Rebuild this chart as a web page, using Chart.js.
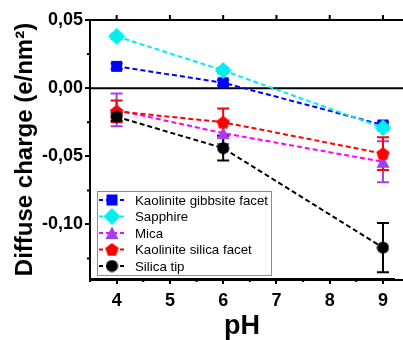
<!DOCTYPE html>
<html lang="en">
<head>
<meta charset="UTF-8">
<title>Diffuse charge vs pH</title>
<script src="https://cdn.jsdelivr.net/npm/chart.js"></script>
<style>
  html, body { margin: 0; padding: 0; background: #fff; }
</style>
</head>
<body>
<canvas id="chart" width="403" height="340"></canvas>
<script>
// pH values where the measurements were taken
const phValues = [4, 6, 9];
const seriesNames = ['Kaolinite gibbsite facet', 'Sapphire', 'Mica', 'Kaolinite silica facet', 'Silica tip'];

// diffuse charge (e/nm2) and error bars
const gibbsiteCharge = [0.016, 0.004, -0.027];
const gibbsiteErr = [0.002, 0.002, 0.002];
const sapphireCharge = [0.038, 0.013, -0.029];
const sapphireErr = [0.002, 0.002, 0.002];
const micaCharge = [-0.016, -0.033, -0.054];
const micaErr = [0.012, 0.008, 0.015];
const silicaFacetCharge = [-0.017, -0.025, -0.048];
const silicaFacetErr = [0.008, 0.010, 0.012];
const silicaTipCharge = [-0.021, -0.044, -0.117];
const silicaTipErr = [0.003, 0.009, 0.018];

const xTicks = [4, 5, 6, 7, 8, 9];
const xMinorTicks = [3.5, 4.5, 5.5, 6.5, 7.5, 8.5];
const yTicks = [-0.10, -0.05, 0.00, 0.05];
const yMinorTicks = [-0.125, -0.075, -0.025, 0.025];

// marker images (Chart.js has no pentagon, so all markers are drawn the same way)
function makeMarker(shape, fill, size) {
    const c = document.createElement('canvas');
    c.width = size; c.height = size;
    const g = c.getContext('2d');
    const r = size / 2;
    g.fillStyle = fill;
    g.beginPath();
    if (shape === 'square') {
        g.rect(1, 1, size - 2, size - 2);
    } else if (shape === 'diamond') {
        g.moveTo(r, 0); g.lineTo(size, r); g.lineTo(r, size); g.lineTo(0, r);
    } else if (shape === 'triangle') {
        g.moveTo(r, 0.5); g.lineTo(size - 0.5, size - 1); g.lineTo(0.5, size - 1);
    } else if (shape === 'pentagon') {
        for (let i = 0; i < 5; i++) {
            const a = -Math.PI / 2 + i * 2 * Math.PI / 5;
            const px = r + (r - 0.5) * Math.cos(a), py = r + 0.6 + (r - 0.5) * Math.sin(a);
            if (i === 0) g.moveTo(px, py); else g.lineTo(px, py);
        }
    } else {
        g.arc(r, r, r - 0.5, 0, Math.PI * 2);
    }
    g.closePath();
    g.fill();
    return c;
}

const markers = [
    makeMarker('square', '#0000ff', 13),
    makeMarker('diamond', '#00f0f0', 17),
    makeMarker('triangle', '#a040f0', 14),
    makeMarker('pentagon', '#ff0000', 15),
    makeMarker('circle', '#000000', 13)
];
const lineColors = ['#0000ff', '#00f0f0', '#ff00ff', '#ff0000', '#000000'];
const barColors = ['#0000ff', '#00e0e8', '#a040f0', '#ff0000', '#000000'];

const allCharge = [gibbsiteCharge, sapphireCharge, micaCharge, silicaFacetCharge, silicaTipCharge];
const allErr = [gibbsiteErr, sapphireErr, micaErr, silicaFacetErr, silicaTipErr];

const datasets = allCharge.map((vals, i) => ({
    label: seriesNames[i],
    data: phValues.map((x, j) => ({ x: x, y: vals[j] })),
    borderColor: lineColors[i],
    borderWidth: 2,
    borderDash: [5, 3],
    pointStyle: markers[i],
    fill: false,
    order: 5 - i,
    errors: allErr[i],
    errColor: barColors[i]
}));

const fmt = v => (Math.abs(v) < 1e-9 ? 0 : v).toFixed(2).replace('.', ',');

// error bars, frame, minor ticks, zero line and legend
const extras = {
    id: 'extras',
    beforeDatasetsDraw(chart) {
        const ctx = chart.ctx, xs = chart.scales.x, ys = chart.scales.y;
        const a = chart.chartArea;
        ctx.save();
        ctx.strokeStyle = '#000';
        ctx.lineWidth = 2;
        ctx.beginPath();
        ctx.moveTo(a.left, ys.getPixelForValue(0));
        ctx.lineTo(chart.width, ys.getPixelForValue(0));
        ctx.stroke();
        chart.data.datasets.forEach(ds => {
            ctx.strokeStyle = ds.errColor;
            ctx.lineWidth = 2;
            ds.data.forEach((p, j) => {
                const px = xs.getPixelForValue(p.x);
                const top = ys.getPixelForValue(p.y + ds.errors[j]);
                const bot = ys.getPixelForValue(p.y - ds.errors[j]);
                ctx.beginPath();
                ctx.moveTo(px, top); ctx.lineTo(px, bot);
                ctx.moveTo(px - 6, top); ctx.lineTo(px + 6, top);
                ctx.moveTo(px - 6, bot); ctx.lineTo(px + 6, bot);
                ctx.stroke();
            });
        });
        ctx.restore();
    },
    afterDraw(chart) {
        const ctx = chart.ctx, xs = chart.scales.x, ys = chart.scales.y;
        const a = chart.chartArea;
        ctx.save();
        ctx.strokeStyle = '#000';
        ctx.lineWidth = 2;
        ctx.beginPath();
        // top frame and the part of the axes running off the right edge
        ctx.moveTo(a.left - 1, a.top); ctx.lineTo(chart.width, a.top);
        ctx.moveTo(a.left - 1, a.bottom + 1); ctx.lineTo(chart.width, a.bottom + 1);
        xTicks.forEach(v => {
            const px = xs.getPixelForValue(v);
            ctx.moveTo(px, a.top); ctx.lineTo(px, a.top - 5);
        });
        xMinorTicks.forEach(v => {
            const px = xs.getPixelForValue(v);
            ctx.moveTo(px, a.bottom); ctx.lineTo(px, a.bottom + 3);
        });
        yMinorTicks.forEach(v => {
            const py = ys.getPixelForValue(v);
            ctx.moveTo(a.left, py); ctx.lineTo(a.left - 3, py);
        });
        ctx.stroke();

        // legend box
        const lx = 97, ly = 191, lw = 174, lh = 84, rowH = 16.5;
        ctx.fillStyle = '#fff';
        ctx.fillRect(lx, ly, lw, lh);
        ctx.strokeStyle = '#8c8c8c';
        ctx.lineWidth = 1;
        ctx.strokeRect(lx + 0.5, ly + 0.5, lw, lh);
        ctx.font = '13.3px "Liberation Sans", Arial, sans-serif';
        ctx.textBaseline = 'middle';
        chart.data.datasets.forEach((ds, i) => {
            const cy = ly + 9 + i * rowH;
            ctx.strokeStyle = ds.borderColor;
            ctx.lineWidth = 2;
            ctx.setLineDash([4, 3]);
            ctx.beginPath();
            ctx.moveTo(lx + 2, cy); ctx.lineTo(lx + 28, cy);
            ctx.stroke();
            ctx.setLineDash([]);
            const m = ds.pointStyle;
            ctx.drawImage(m, lx + 15 - m.width / 2, cy - m.height / 2);
            ctx.fillStyle = '#000';
            ctx.fillText(ds.label, lx + 38, cy + 1);
        });
        ctx.restore();
    }
};

new Chart(document.getElementById('chart'), {
    type: 'line',
    data: { datasets: datasets },
    options: {
        responsive: false,
        devicePixelRatio: 1,
        animation: false,
        layout: { padding: { top: 20, right: 0, left: 0, bottom: 0 } },
        plugins: { legend: { display: false }, tooltip: { enabled: false } },
        elements: { point: { radius: 7, hoverRadius: 7 } },
        scales: {
            x: {
                type: 'linear',
                min: 3.5,
                max: 9.207,
                afterFit: s => { s.height = 61; },
                afterBuildTicks: s => { s.ticks = xTicks.map(v => ({ value: v })); },
                grid: { drawOnChartArea: false, drawTicks: true, tickLength: 5, color: '#000', lineWidth: 2 },
                border: { display: true, color: '#000', width: 2 },
                ticks: {
                    color: '#000',
                    padding: 6,
                    font: { family: '"Liberation Sans", Arial, sans-serif', size: 18, weight: 'bold' }
                },
                title: {
                    display: true,
                    text: 'pH',
                    color: '#000',
                    padding: { top: 0, bottom: 0 },
                    font: { family: '"Liberation Sans", Arial, sans-serif', size: 27, weight: 'bold', lineHeight: 1 }
                }
            },
            y: {
                min: -0.14,
                max: 0.05,
                afterFit: s => { s.width = 90; },
                afterBuildTicks: s => { s.ticks = yTicks.map(v => ({ value: v })); },
                grid: { drawOnChartArea: false, drawTicks: true, tickLength: 5, color: '#000', lineWidth: 2 },
                border: { display: true, color: '#000', width: 2 },
                ticks: {
                    color: '#000',
                    padding: 2,
                    callback: v => fmt(v),
                    font: { family: '"Liberation Sans", Arial, sans-serif', size: 18, weight: 'bold' }
                },
                title: {
                    display: true,
                    text: 'Diffuse charge (e/nm²)',
                    color: '#000',
                    padding: { top: 11, bottom: 0 },
                    font: { family: '"Liberation Sans", Arial, sans-serif', size: 24, weight: 'bold', lineHeight: 1.2 }
                }
            }
        }
    },
    plugins: [extras]
});
</script>
</body>
</html>
